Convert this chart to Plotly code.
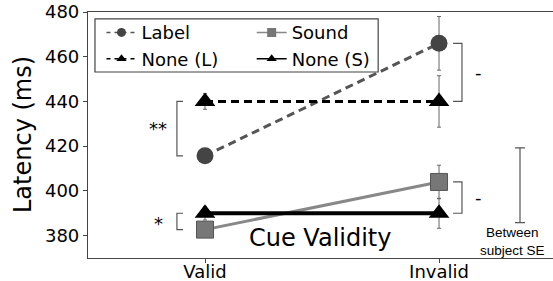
import plotly.graph_objects as go

# ---- data ----
categories = ["Valid", "Invalid"]
x_pos = [0, 1]
label_ms = [415.7, 466.0]
label_se = [3.0, 12.0]
sound_ms = [382.7, 404.0]
sound_se = [3.0, 7.5]
none_l_ms = [440.0, 440.0]
none_l_se = [3.5, 11.5]
none_s_ms = [390.0, 390.0]
none_s_se = [3.0, 6.7]
between_mean = 402.5
between_se = 16.7
y_ticks = [380, 400, 420, 440, 460, 480]
sig_left = ["**", "*"]
sig_right = ["-", "-"]

FONT = "DejaVu Sans"
fig = go.Figure()

def err(vals, w=2):
    return dict(type="data", array=vals, visible=True, color="#666", thickness=1, width=w)

# main traces
fig.add_trace(go.Scatter(x=x_pos, y=label_ms, mode="lines+markers", showlegend=False,
                         line=dict(color="#555", width=3, dash="8px,5px"),
                         marker=dict(symbol="circle", size=17, color="#444"),
                         error_y=err(label_se)))
fig.add_trace(go.Scatter(x=x_pos, y=sound_ms, mode="lines+markers", showlegend=False,
                         line=dict(color="#888", width=3),
                         marker=dict(symbol="square", size=17, color="#777", line=dict(color="#555", width=1)),
                         error_y=err(sound_se)))
fig.add_trace(go.Scatter(x=x_pos, y=none_l_ms, mode="lines+markers", showlegend=False,
                         line=dict(color="black", width=3, dash="8px,5px"),
                         marker=dict(symbol="triangle-up", size=18, color="black"),
                         error_y=err(none_l_se)))
fig.add_trace(go.Scatter(x=x_pos, y=none_s_ms, mode="lines+markers", showlegend=False,
                         line=dict(color="black", width=4),
                         marker=dict(symbol="triangle-up", size=18, color="black"),
                         error_y=err(none_s_se)))

# between-subject SE bar
fig.add_trace(go.Scatter(x=[1.346], y=[between_mean], mode="markers", showlegend=False,
                         marker=dict(size=1, color="rgba(0,0,0,0)"),
                         error_y=dict(type="data", array=[between_se], visible=True,
                                      color="#555", thickness=1.2, width=5)))

# legend entries (symbols only)
def leg(name, legend, color, mcolor, symbol, dash, lw=1.5):
    fig.add_trace(go.Scatter(x=[None], y=[None], mode="lines+markers", name=name, legend=legend,
                             line=dict(color=color, width=lw, dash=dash),
                             marker=dict(symbol=symbol, size=9, color=mcolor)))

leg("Label", "legend", "#555", "#444", "circle", "4px,4px")
leg("None (L)", "legend", "black", "black", "triangle-up", "4px,4px")
leg("Sound", "legend2", "#888", "#777", "square", "solid")
leg("None (S)", "legend2", "black", "black", "triangle-up", "solid")

# significance brackets
shapes = []
def bracket(x_arm, x_v, y0, y1):
    shapes.append(dict(type="path", xref="x", yref="y",
                       path=f"M {x_arm},{y0} L {x_v},{y0} L {x_v},{y1} L {x_arm},{y1}",
                       line=dict(color="#555", width=1.2)))

bracket(-0.094, -0.12, none_l_ms[0], label_ms[0])
bracket(-0.094, -0.12, none_s_ms[0], sound_ms[0])
bracket(1.06, 1.098, label_ms[1], none_l_ms[1])
bracket(1.06, 1.098, sound_ms[1], none_s_ms[1])

# legend frame
shapes.append(dict(type="rect", xref="paper", yref="paper", x0=0.015, x1=0.624, y0=0.756, y1=0.972,
                   line=dict(color="#444", width=1.2), fillcolor="white", layer="above"))

annotations = [
    dict(x=-0.2, y=(label_ms[0] + none_l_ms[0]) / 2, text=sig_left[0], showarrow=False,
         font=dict(family=FONT, size=18, color="black")),
    dict(x=-0.2, y=(sound_ms[0] + none_s_ms[0]) / 2 - 1, text=sig_left[1], showarrow=False,
         font=dict(family=FONT, size=18, color="black")),
    dict(x=1.167, y=(label_ms[1] + none_l_ms[1]) / 2, text=sig_right[0], showarrow=False,
         font=dict(family=FONT, size=18, color="black")),
    dict(x=1.167, y=(sound_ms[1] + none_s_ms[1]) / 2, text=sig_right[1], showarrow=False,
         font=dict(family=FONT, size=18, color="black")),
    dict(x=0.491, y=379, text="Cue Validity", showarrow=False,
         font=dict(family=FONT, size=24, color="black")),
    dict(x=1.312, y=377.3, text="Between<br>subject SE", showarrow=False,
         font=dict(family="Liberation Sans", size=13.5, color="black")),
    dict(xref="paper", yref="paper", x=-(88 - 23) / 465, y=0.5, text="Latency (ms)",
         textangle=-90, showarrow=False, xanchor="center", yanchor="middle",
         font=dict(family=FONT, size=24, color="black")),
]

fig.update_layout(
    width=553, height=281,
    margin=dict(l=88, r=0, t=12, b=23, autoexpand=False),
    plot_bgcolor="white", paper_bgcolor="white",
    font=dict(family=FONT, size=18, color="black"),
    shapes=shapes, annotations=annotations,
    legend=dict(x=0.029, y=0.991, xanchor="left", yanchor="top", bgcolor="rgba(0,0,0,0)",
                font=dict(family=FONT, size=18, color="black"), tracegroupgap=0),
    legend2=dict(x=0.352, y=0.991, xanchor="left", yanchor="top", bgcolor="rgba(0,0,0,0)",
                 font=dict(family=FONT, size=18, color="black"), tracegroupgap=0),
)
fig.update_xaxes(range=[-0.5, 1.487], tickvals=x_pos, ticktext=categories, automargin=False,
                 showline=True, mirror=True, linecolor="#444", linewidth=1.2,
                 ticks="outside", ticklen=4, tickcolor="#444", showgrid=False, zeroline=False,
                 ticklabelstandoff=-7,
                 tickfont=dict(family=FONT, size=18, color="black"))
fig.update_yaxes(range=[370, 480], tickvals=y_ticks, automargin=False,
                 showline=True, linecolor="#444", linewidth=1.2,
                 ticks="outside", ticklen=4, tickcolor="#444", showgrid=False, zeroline=False,
                 tickfont=dict(family=FONT, size=18, color="black"))

fig.write_html("out.html", config={"displayModeBar": False},
               post_script="document.body.style.margin='0';document.body.style.overflow='hidden';")
